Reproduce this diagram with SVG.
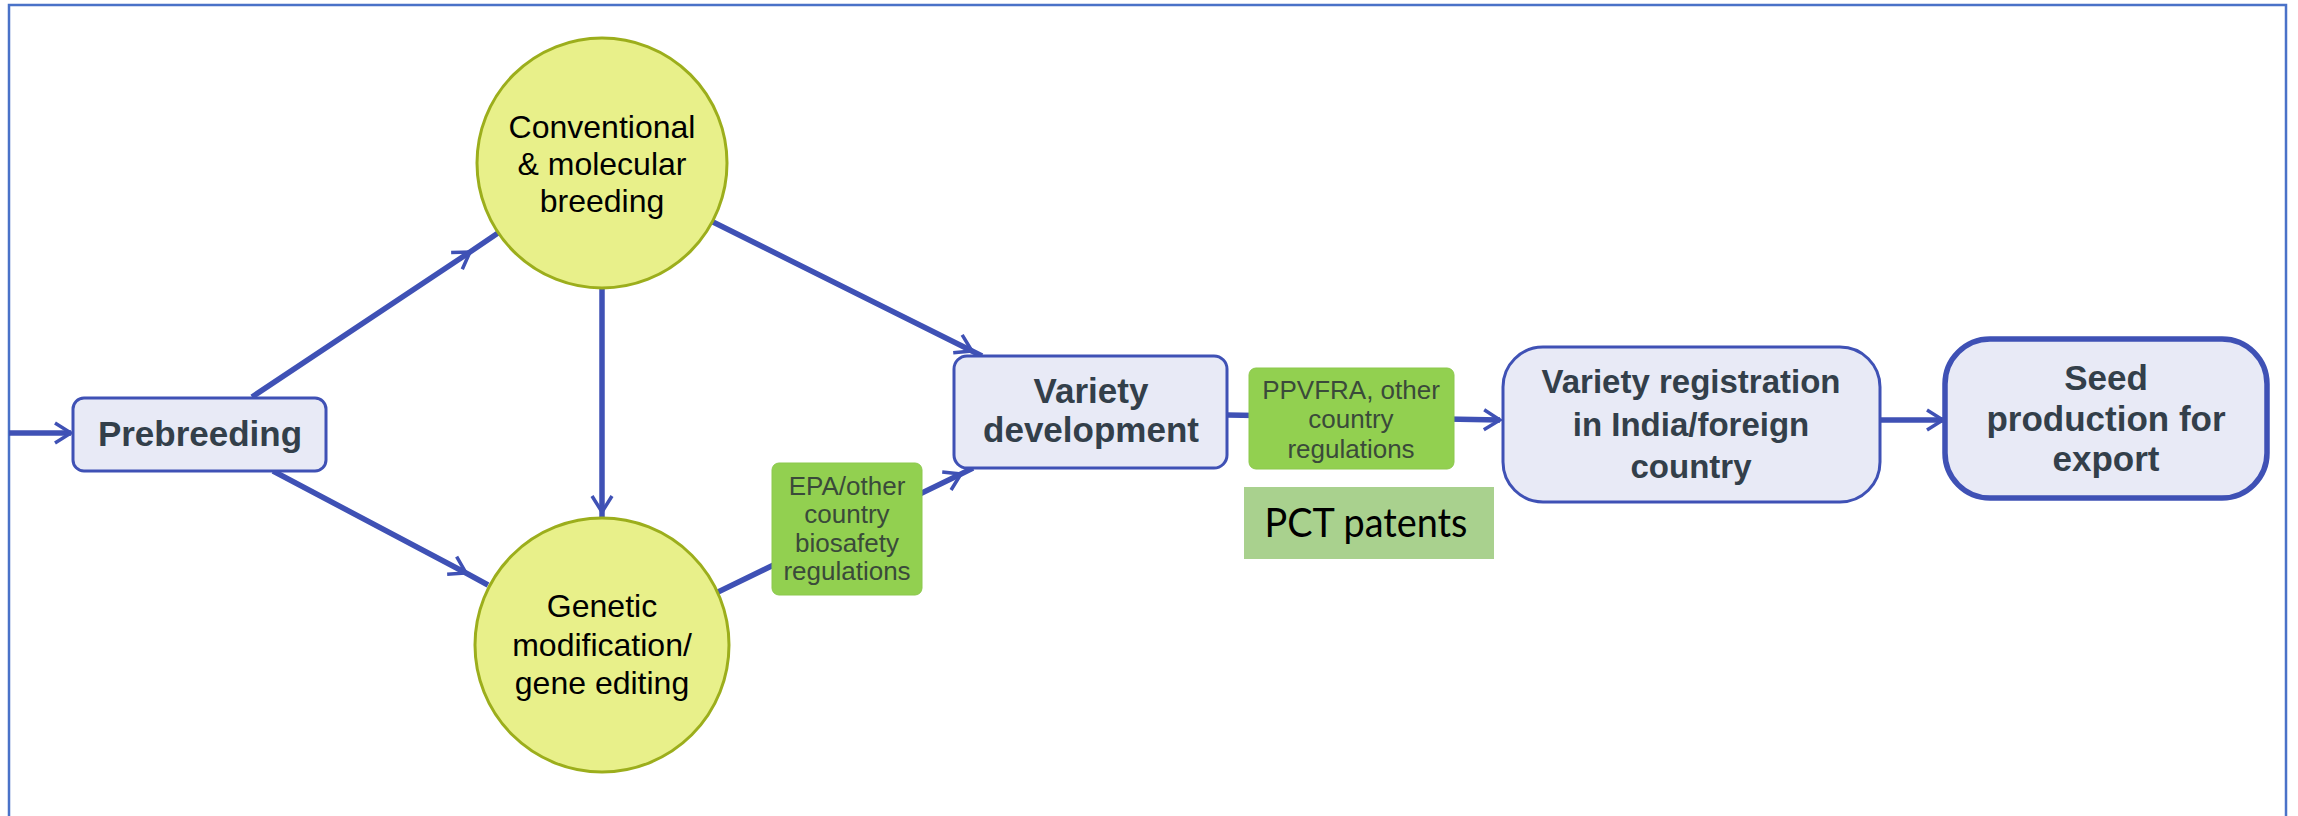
<svg xmlns="http://www.w3.org/2000/svg" width="2298" height="816" viewBox="0 0 2298 816">
<style>
.box{fill:#e8eaf6;stroke:#3f51b5;stroke-width:3}
.circ{fill:#e8f08a;stroke:#9cae1c;stroke-width:3}
.reg{fill:#92d050;stroke:#8cc84c;stroke-width:1}
.conn{fill:none;stroke:#3f51b5;stroke-width:5.5}
.bt{font-family:"Liberation Sans",Arial,sans-serif;font-weight:bold;fill:#333f4a;text-anchor:middle}
.ct{font-family:"Liberation Sans",Arial,sans-serif;fill:#000;text-anchor:middle;font-size:32px}
.gt{font-family:"Liberation Sans",Arial,sans-serif;fill:#3a4a3a;text-anchor:middle;font-size:26px}
</style>
<defs>
<marker id="ah" markerUnits="userSpaceOnUse" viewBox="0 0 20 24" refX="18" refY="12" markerWidth="20" markerHeight="24" orient="auto">
<path d="M2,2 L18,12 L2,22" fill="none" stroke="#3f51b5" stroke-width="3.5" stroke-linejoin="miter"/>
</marker>
</defs>
<rect x="0" y="0" width="2298" height="816" fill="#ffffff"/>
<rect x="9" y="5" width="2277" height="840" fill="none" stroke="#4a72c8" stroke-width="2.5"/>
<g id="connectors">
<path class="conn" d="M9,433 L71,433" marker-end="url(#ah)"/>
<path class="conn" d="M252,397 L470,252 L498,233" marker-mid="url(#ah)"/>
<path class="conn" d="M273,471 L466,573 L488,585" marker-mid="url(#ah)"/>
<path class="conn" d="M602,289 L602,512 L602,519" marker-mid="url(#ah)"/>
<path class="conn" d="M713,222 L972,351 L982,356" marker-mid="url(#ah)"/>
<path class="conn" d="M718,592 L961,474 L973,468" marker-mid="url(#ah)"/>
<path class="conn" d="M1227,415 L1500,420" marker-end="url(#ah)"/>
<path class="conn" d="M1880,420 L1943,420" marker-end="url(#ah)"/>
</g>
<g id="prebreeding">
<rect class="box" x="73" y="398" width="253" height="73" rx="11"/>
<text class="bt" x="200" y="446" font-size="35">Prebreeding</text>
</g>
<g id="conventional">
<circle class="circ" cx="602" cy="163" r="125"/>
<text class="ct" x="602" y="138">Conventional</text>
<text class="ct" x="602" y="175">&amp; molecular</text>
<text class="ct" x="602" y="212">breeding</text>
</g>
<g id="genetic">
<circle class="circ" cx="602" cy="645" r="127"/>
<text class="ct" x="602" y="617">Genetic</text>
<text class="ct" x="602" y="656">modification/</text>
<text class="ct" x="602" y="694">gene editing</text>
</g>
<g id="epa">
<rect class="reg" x="772" y="463" width="150" height="132" rx="7"/>
<text class="gt" x="847" y="495">EPA/other</text>
<text class="gt" x="847" y="523">country</text>
<text class="gt" x="847" y="552">biosafety</text>
<text class="gt" x="847" y="580">regulations</text>
</g>
<g id="variety-development">
<rect class="box" x="954" y="356" width="273" height="112" rx="13"/>
<text class="bt" x="1091" y="403" font-size="35">Variety</text>
<text class="bt" x="1091" y="442" font-size="35">development</text>
</g>
<g id="ppvfra">
<rect class="reg" x="1249" y="368" width="205" height="101" rx="7"/>
<text class="gt" x="1351" y="399">PPVFRA, other</text>
<text class="gt" x="1351" y="428">country</text>
<text class="gt" x="1351" y="458">regulations</text>
</g>
<g id="pct">
<rect x="1244" y="487" width="250" height="72" fill="#a9d18e"/>
<text x="1366" y="537" font-family="Lato,'Open Sans',sans-serif" font-size="41" fill="#000" text-anchor="middle" textLength="203" lengthAdjust="spacingAndGlyphs">PCT patents</text>
</g>
<g id="variety-registration">
<rect class="box" x="1503" y="347" width="377" height="155" rx="40"/>
<text class="bt" x="1691" y="393" font-size="33">Variety registration</text>
<text class="bt" x="1691" y="436" font-size="33">in India/foreign</text>
<text class="bt" x="1691" y="478" font-size="33">country</text>
</g>
<g id="seed-production">
<rect class="box" x="1945" y="339" width="322" height="159" rx="45" style="stroke-width:5.5"/>
<text class="bt" x="2106" y="390" font-size="35">Seed</text>
<text class="bt" x="2106" y="431" font-size="35">production for</text>
<text class="bt" x="2106" y="471" font-size="35">export</text>
</g>
</svg>
